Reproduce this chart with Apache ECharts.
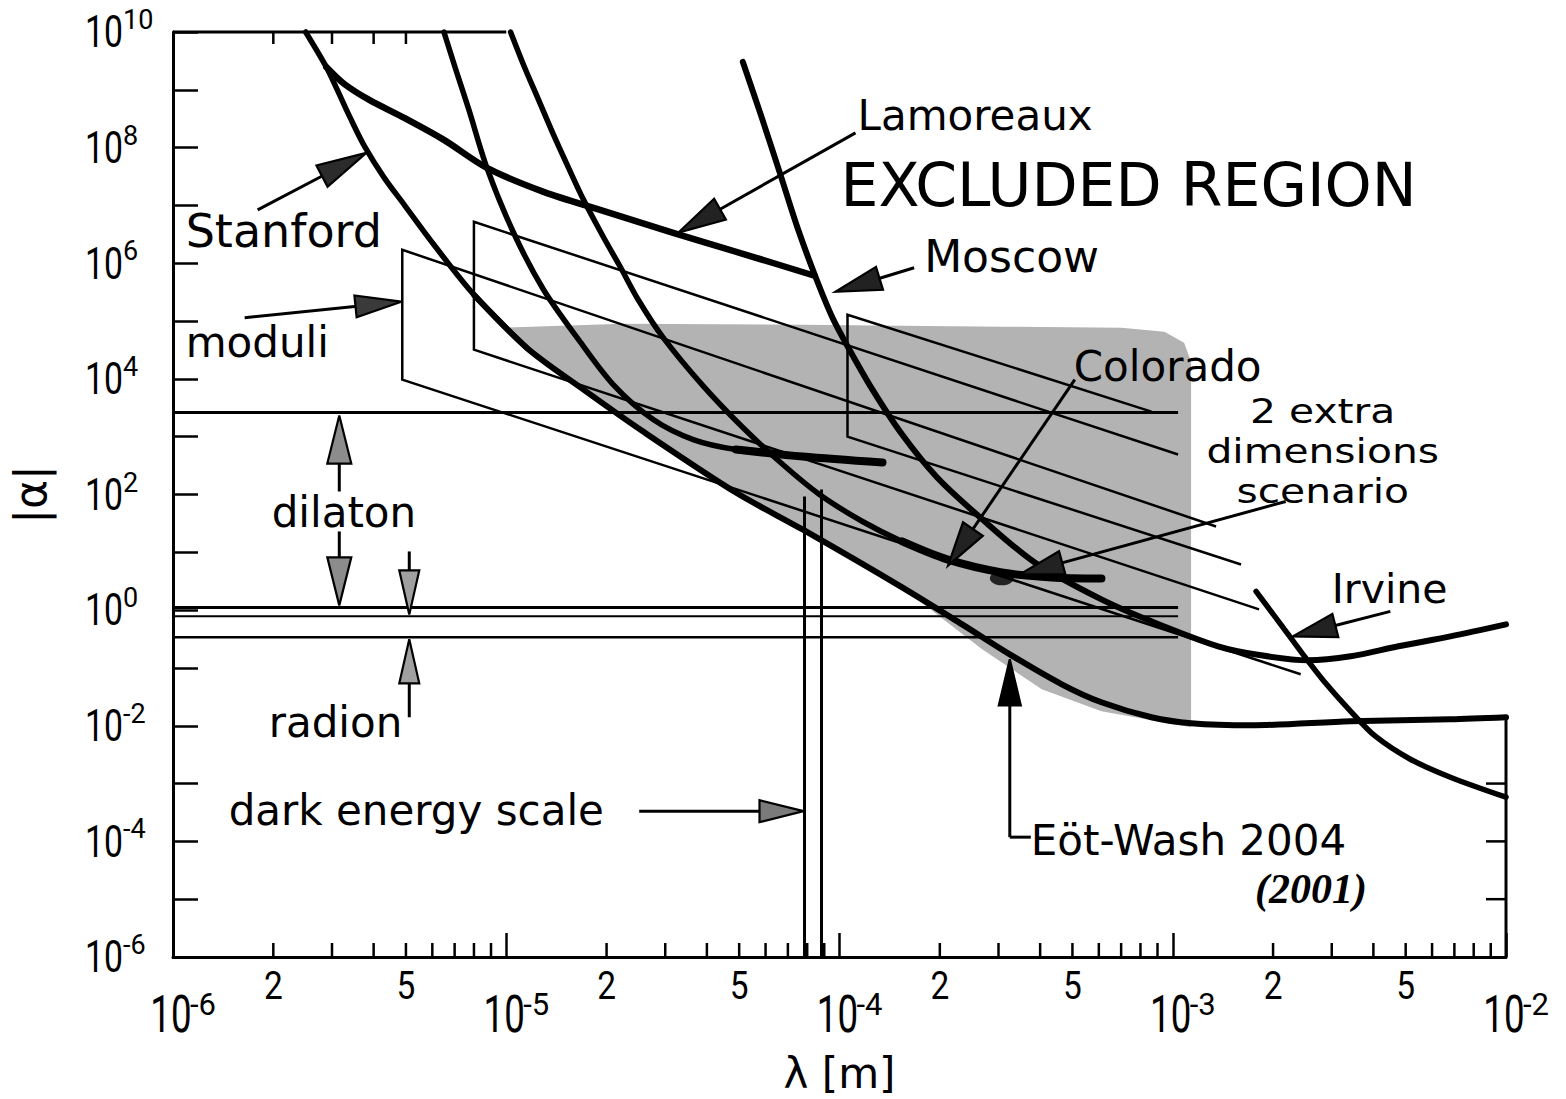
<!DOCTYPE html>
<html>
<head>
<meta charset="utf-8">
<title>Yukawa limits: |α| versus λ</title>
<script src="https://cdn.jsdelivr.net/npm/echarts@6/dist/echarts.min.js"></script>
<style>
  html, body { margin: 0; padding: 0; background: #fff; }
  #chart { width: 1566px; height: 1099px; }
</style>
</head>
<body>
<div id="chart"></div>
<script>
// Every point below is [log10(λ / m), log10 |α|].

// ---- experimental limit curves ----
const stanfordA = [[-5.602,10],[-5.540,9.395],[-5.507,8.998],[-5.468,8.514],[-5.426,8.030],[-5.366,7.477],[-5.306,7.011],[-5.217,6.320],[-5.097,5.456],[-4.939,4.540]];
const stanfordB = [[-5.187,10],[-5.151,9.343],[-5.112,8.652],[-5.058,7.650],[-4.978,6.527],[-4.888,5.542],[-4.783,4.678],[-4.679,3.901],[-4.559,3.296],[-4.439,2.950],[-4.311,2.778],[-4.111,2.657],[-3.871,2.553]];
const lamoreaux = [[-5.540,9.395],[-5.486,9.101],[-5.411,8.825],[-5.306,8.514],[-5.187,8.134],[-5.058,7.650],[-4.888,7.235],[-4.709,6.907],[-4.499,6.527],[-4.290,6.164],[-4.075,5.784]];
const moscow = [[-4.290,9.482],[-4.236,8.566],[-4.179,7.564],[-4.126,6.613],[-4.072,5.767],[-4.021,5.058],[-3.970,4.505],[-3.901,3.814],[-3.812,3.037],[-3.707,2.294],[-3.581,1.620],[-3.414,0.825],[-3.214,0.186],[-3.064,-0.194],[-2.864,-0.626],[-2.735,-0.782],[-2.595,-0.868],[-2.466,-0.799],[-2.323,-0.626],[-2.167,-0.454],[-2.000,-0.246]];
const colorado = [[-4.987,10],[-4.948,9.430],[-4.903,8.825],[-4.858,8.220],[-4.813,7.650],[-4.768,7.097],[-4.709,6.458],[-4.658,5.939],[-4.604,5.369],[-4.529,4.713],[-4.410,3.883],[-4.290,3.158],[-4.170,2.518],[-4.060,2.000],[-3.931,1.533],[-3.812,1.188],[-3.677,0.877],[-3.513,0.652],[-3.363,0.566],[-3.214,0.548]];
const coloradoPoint = [[-3.513,0.55]];
const irvine = [[-2.750,0.324],[-2.676,-0.246],[-2.616,-0.713],[-2.541,-1.266],[-2.466,-1.750],[-2.392,-2.181],[-2.287,-2.579],[-2.167,-2.890],[-2.000,-3.236]];
const eotWash2004 = [[-5.097,5.456],[-4.939,4.540],[-4.768,3.814],[-4.589,3.088],[-4.311,2.034],[-4.111,1.395],[-3.812,0.393],[-3.632,-0.246],[-3.489,-0.765],[-3.333,-1.283],[-3.214,-1.594],[-3.064,-1.853],[-2.945,-1.957],[-2.765,-1.992],[-2.466,-1.922],[-2.167,-1.888],[-2.000,-1.853]];

// ---- theory bands ----
const moduliA = [[-2.870,1.447],[-5.312,6.233],[-5.312,3.987],[-2.616,-1.110]];
const moduliB = [[-2.984,2.691],[-5.097,6.717],[-5.097,4.505],[-2.741,0.013]];
const moduliC = [[-3.064,3.434],[-3.976,5.110],[-3.976,3.002],[-2.795,0.790]];
const dilatonLimits = [3.417, 0.047];
const radionLimits = [-0.108, -0.471];
const bandLambdaRange = [-6, -2.984];
const darkEnergyLambda = [-4.105, -4.054];
const darkEnergyTop = [1.965, 2.086];

// outline of the shaded excluded area
const excludedShade = [[-5.007,4.886],[-4.649,4.955],[-4.111,4.937],[-3.513,4.903],[-3.154,4.886],[-3.025,4.816],[-2.966,4.626],[-2.945,4.298],[-2.945,-2.026],[-3.214,-1.750],[-3.393,-1.369],[-3.572,-0.678],[-3.812,0.393],[-4.111,1.395],[-4.311,2.034],[-4.589,3.088],[-4.768,3.814],[-4.939,4.540]];

// ---- axis ticks and tick labels ----
const xDecades = [-6, -5, -4, -3, -2];
const xMinorSteps = [2, 3, 4, 5, 6, 7, 8, 9];
const xMinorLabels = [2, 5];
const yLabelExponents = [10, 8, 6, 4, 2, 0, -2, -4, -6];
const topTickSteps = [2, 3, 4, 5];
const rightTickExponents = [-3, -4, -5];

// ---- annotations ----
const annotations = [
  { text: 'Lamoreaux',         at: [-3.946, 8.549] },
  { text: 'EXCLUDED REGION',   at: [-3.997, 7.356] },
  { text: 'Moscow',            at: [-3.746, 6.112] },
  { text: 'Stanford',          at: [-5.962, 6.562] },
  { text: 'moduli',            at: [-5.962, 4.626] },
  { text: 'Colorado',          at: [-3.297, 4.212] },
  { text: '2 extra\ndimensions\nscenario', at: [-2.550, 2.743] },
  { text: 'Irvine',            at: [-2.523, 0.359] },
  { text: 'dilaton',           at: [-5.704, 1.689] },
  { text: 'radion',            at: [-5.713, -1.940] },
  { text: 'dark energy scale', at: [-5.833, -3.460] },
  { text: 'Eöt-Wash 2004',     at: [-3.426, -3.978] },
  { text: '(2001)',            at: [-2.753, -4.825] }
];
const arrows = [
  { from: [-5.746, 6.924],  to: [-5.420, 7.909] },   // Stanford
  { from: [-5.785, 5.058],  to: [-5.315, 5.335] },   // moduli
  { from: [-3.952, 8.255],  to: [-4.484, 6.527] },   // Lamoreaux
  { from: [-3.776, 5.922],  to: [-4.012, 5.507] },   // Moscow
  { from: [-3.294, 3.987],  to: [-3.674, 0.773] },   // Colorado
  { from: [-2.661, 1.879],  to: [-3.459, 0.618] },   // 2 extra dimensions
  { from: [-2.347, -0.022], to: [-2.640, -0.454] },  // Irvine
  { from: [-4.601, -3.477], to: [-4.108, -3.477] },  // dark energy scale
  { from: [-5.501, 2.052],  to: [-5.501, 3.365] },   // dilaton, up
  { from: [-5.501, 1.361],  to: [-5.501, 0.082] },   // dilaton, down
  { from: [-5.291, 1.015],  to: [-5.291, -0.074] },  // radion, down
  { from: [-5.291, -1.853], to: [-5.291, -0.505] },  // radion, up
  { from: [-3.489, -3.927], to: [-3.489, -0.851] }   // Eöt-Wash
];
const eotWashLeader = [[-3.426, -3.927], [-3.489, -3.927]];

// ---- drawing styles ----
const INK = '#000';
const LABEL_FONT = 'DejaVu Sans';
const TICK_FONT = 'Roboto';
const labelSize = { 'EXCLUDED REGION': 60, 'Stanford': 46, 'Moscow': 44, 'Irvine': 41, '2 extra\ndimensions\nscenario': 34 };
const headStyle = [
  { len: 50, half: 12, fill: '#2b2b2b' },
  { len: 46, half: 11, fill: '#3a3a3a' },
  { len: 48, half: 12, fill: '#222' },
  { len: 46, half: 12, fill: '#222' },
  { len: 44, half: 12, fill: '#222' },
  { len: 44, half: 12, fill: '#222' },
  { len: 44, half: 12, fill: '#222' },
  { len: 44, half: 11, fill: '#7a7a7a' },
  { len: 48, half: 12, fill: '#8c8c8c' },
  { len: 48, half: 12, fill: '#8c8c8c' },
  { len: 44, half: 10, fill: '#a0a0a0' },
  { len: 44, half: 10, fill: '#a0a0a0' },
  { len: 46, half: 11, fill: '#000' }
];

function curve(name, data, width, z) {
  return {
    type: 'line', name, data, symbol: 'none', showSymbol: false, smooth: 0.3,
    clip: false, silent: true, z: z || 4,
    lineStyle: { color: INK, width, cap: 'round', join: 'round' }
  };
}
function straight(name, data, width) {
  return {
    type: 'line', name, data, symbol: 'none', showSymbol: false, smooth: false,
    clip: false, silent: true, z: 3,
    lineStyle: { color: INK, width, cap: 'butt', join: 'miter' }
  };
}
function expText(e) { return e < 0 ? '-' + (-e) : String(e); }

const minorTickData = [];
const minorLabelData = [];
xDecades.slice(0, -1).forEach(d => {
  xMinorSteps.forEach(k => minorTickData.push([d + Math.log10(k), -6]));
  xMinorLabels.forEach(k => minorLabelData.push([d + Math.log10(k), -6, k]));
});

const series = [
  // shaded excluded area
  {
    type: 'custom', name: 'excluded area', coordinateSystem: 'cartesian2d', silent: true, z: 1,
    data: [[-4, 0]],
    renderItem: (params, api) => ({
      type: 'polygon',
      shape: { points: excludedShade.map(p => api.coord(p)) },
      style: { fill: '#b3b3b3' }
    })
  },
  // theory bands
  straight('moduli A', moduliA, 2.5),
  straight('moduli B', moduliB, 2.5),
  straight('moduli C', moduliC, 2.5),
  straight('dilaton upper', bandLambdaRange.map(x => [x, dilatonLimits[0]]), 3),
  straight('dilaton lower', bandLambdaRange.map(x => [x, dilatonLimits[1]]), 3),
  straight('radion upper', bandLambdaRange.map(x => [x, radionLimits[0]]), 2),
  straight('radion lower', bandLambdaRange.map(x => [x, radionLimits[1]]), 2.5),
  straight('dark energy 1', [[darkEnergyLambda[0], darkEnergyTop[0]], [darkEnergyLambda[0], -6]], 3),
  straight('dark energy 2', [[darkEnergyLambda[1], darkEnergyTop[1]], [darkEnergyLambda[1], -6]], 3),
  // experimental limits
  curve('Stanford', stanfordA, 5.5),
  curve('Stanford (2)', stanfordB, 5.5),
  curve('Stanford (2) end', stanfordB.slice(10), 8, 5),
  curve('Lamoreaux', lamoreaux, 6.5),
  curve('Moscow', moscow, 6),
  curve('Colorado', colorado, 5.5),
  curve('Colorado end', colorado.slice(15), 8, 5),
  curve('Irvine', irvine, 5.5),
  curve('Eöt-Wash 2004', eotWash2004, 6),
  {
    type: 'scatter', name: 'Colorado point', data: coloradoPoint, symbol: 'circle',
    symbolSize: [24, 14], itemStyle: { color: INK }, silent: true, z: 6
  },
  // frame pieces
  straight('top frame', [[-6, 10], [-5, 10]], 3),
  straight('right frame', [[-2, eotWash2004[eotWash2004.length - 1][1]], [-2, -6]], 3),
  straight('Eöt-Wash leader', eotWashLeader, 3),
  {
    type: 'custom', name: 'minor ticks', coordinateSystem: 'cartesian2d', silent: true, z: 7,
    data: minorTickData,
    renderItem: (params, api) => {
      const p = api.coord([api.value(0), api.value(1)]);
      return { type: 'line', shape: { x1: p[0], y1: p[1], x2: p[0], y2: p[1] - 14 }, style: { stroke: INK, lineWidth: 2.5 } };
    }
  },
  {
    type: 'custom', name: 'top ticks', coordinateSystem: 'cartesian2d', silent: true, z: 7,
    data: topTickSteps.map(k => [-6 + Math.log10(k), 10]),
    renderItem: (params, api) => {
      const p = api.coord([api.value(0), api.value(1)]);
      return { type: 'line', shape: { x1: p[0], y1: p[1], x2: p[0], y2: p[1] + 12 }, style: { stroke: INK, lineWidth: 2.5 } };
    }
  },
  {
    type: 'custom', name: 'right ticks', coordinateSystem: 'cartesian2d', silent: true, z: 7,
    data: rightTickExponents.map(e => [-2, e]),
    renderItem: (params, api) => {
      const p = api.coord([api.value(0), api.value(1)]);
      return { type: 'line', shape: { x1: p[0], y1: p[1], x2: p[0] - 20, y2: p[1] }, style: { stroke: INK, lineWidth: 2.5 } };
    }
  },
  // tick labels
  {
    type: 'custom', name: 'y tick labels', coordinateSystem: 'cartesian2d', silent: true, z: 8,
    data: yLabelExponents.map(e => [-6, e]),
    renderItem: (params, api) => {
      const e = api.value(1);
      const p = api.coord([api.value(0), e]);
      return {
        type: 'group', children: [
          { type: 'text', x: p[0] - 50, y: p[1], scaleX: 0.75,
            style: { text: '10', fontFamily: TICK_FONT, fontSize: 45, fill: INK, align: 'right', verticalAlign: 'middle' } },
          { type: 'text', x: p[0] - 50, y: p[1] - 12,
            style: { text: expText(e), fontFamily: TICK_FONT, fontSize: 27, fill: INK, align: 'left', verticalAlign: 'middle' } }
        ]
      };
    }
  },
  {
    type: 'custom', name: 'x tick labels', coordinateSystem: 'cartesian2d', silent: true, z: 8,
    data: xDecades.map(d => [d, -6]),
    renderItem: (params, api) => {
      const d = api.value(0);
      const p = api.coord([d, api.value(1)]);
      return {
        type: 'group', children: [
          { type: 'text', x: p[0] - 2, y: p[1] + 58, scaleX: 0.72,
            style: { text: '10', fontFamily: TICK_FONT, fontSize: 51, fill: INK, align: 'center', verticalAlign: 'middle' } },
          { type: 'text', x: p[0] + 17, y: p[1] + 47,
            style: { text: expText(d), fontFamily: TICK_FONT, fontSize: 31, fill: INK, align: 'left', verticalAlign: 'middle' } }
        ]
      };
    }
  },
  {
    type: 'custom', name: 'x minor labels', coordinateSystem: 'cartesian2d', silent: true, z: 8,
    data: minorLabelData,
    renderItem: (params, api) => {
      const p = api.coord([api.value(0), api.value(1)]);
      return { type: 'text', x: p[0], y: p[1] + 29, scaleX: 0.88,
        style: { text: String(api.value(2)), fontFamily: TICK_FONT, fontSize: 38, fill: INK, align: 'center', verticalAlign: 'middle' } };
    }
  },
  // arrows
  {
    type: 'custom', name: 'arrows', coordinateSystem: 'cartesian2d', silent: true, z: 9,
    data: arrows.map((a, i) => [a.from[0], a.from[1], a.to[0], a.to[1], i]),
    renderItem: (params, api) => {
      const a = api.coord([api.value(0), api.value(1)]);
      const b = api.coord([api.value(2), api.value(3)]);
      const h = headStyle[api.value(4)];
      const dx = b[0] - a[0], dy = b[1] - a[1];
      const len = Math.hypot(dx, dy);
      const ux = dx / len, uy = dy / len;
      const base = [b[0] - ux * h.len, b[1] - uy * h.len];
      return {
        type: 'group', children: [
          { type: 'line', shape: { x1: a[0], y1: a[1], x2: base[0] + ux * 4, y2: base[1] + uy * 4 },
            style: { stroke: INK, lineWidth: 3 } },
          { type: 'polygon',
            shape: { points: [b, [base[0] - uy * h.half, base[1] + ux * h.half], [base[0] + uy * h.half, base[1] - ux * h.half]] },
            style: { fill: h.fill, stroke: INK, lineWidth: 2.2, lineJoin: 'miter' } }
        ]
      };
    }
  },
  // text annotations
  {
    type: 'custom', name: 'annotations', coordinateSystem: 'cartesian2d', silent: true, z: 10,
    data: annotations.map((a, i) => [a.at[0], a.at[1], i]),
    renderItem: (params, api) => {
      const a = annotations[api.value(2)];
      const p = api.coord([api.value(0), api.value(1)]);
      const hand = a.text === '(2001)';
      const stacked = a.text.indexOf('\n') >= 0;
      return {
        type: 'text', x: p[0], y: p[1], scaleX: stacked ? 1.2 : 1,
        style: {
          text: a.text,
          fontFamily: hand ? 'Liberation Serif' : LABEL_FONT,
          fontStyle: hand ? 'italic' : 'normal',
          fontWeight: hand ? 'bold' : 'normal',
          fontSize: labelSize[a.text] || 42,
          lineHeight: stacked ? 40 : undefined,
          fill: INK, align: stacked ? 'center' : 'left', verticalAlign: 'middle'
        }
      };
    }
  }
];

const chart = echarts.init(document.getElementById('chart'), null, { renderer: 'svg' });
chart.setOption({
  animation: false,
  backgroundColor: '#fff',
  grid: { left: 168, right: 60, top: 32, bottom: 141, containLabel: false },
  xAxis: {
    type: 'value', min: -6, max: -2, interval: 1,
    name: 'λ [m]', nameLocation: 'middle', nameGap: 95,
    nameTextStyle: { fontFamily: LABEL_FONT, fontSize: 42, color: INK, verticalAlign: 'top' },
    axisLine: { onZero: false, lineStyle: { color: INK, width: 3 } },
    axisTick: { inside: true, length: 24, lineStyle: { color: INK, width: 2.5 } },
    axisLabel: { show: false },
    splitLine: { show: false }
  },
  yAxis: {
    type: 'value', min: -6, max: 10, interval: 1,
    name: '|α|', nameLocation: 'middle', nameGap: 121, nameRotate: 90,
    nameTextStyle: { fontFamily: LABEL_FONT, fontSize: 44, color: INK },
    axisLine: { onZero: false, lineStyle: { color: INK, width: 3 } },
    axisTick: { inside: true, length: 25, lineStyle: { color: INK, width: 2.5 } },
    axisLabel: { show: false },
    splitLine: { show: false }
  },
  series
});
</script>
</body>
</html>
